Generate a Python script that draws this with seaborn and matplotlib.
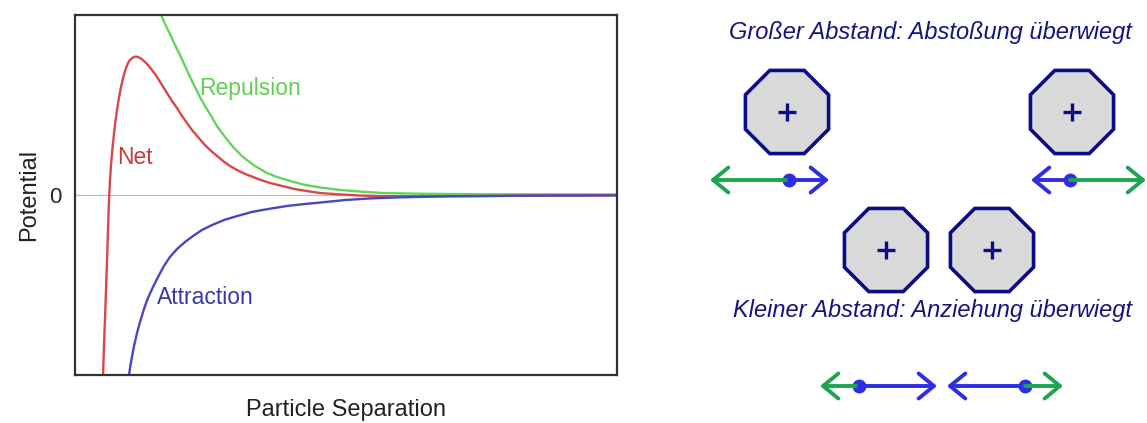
import numpy as np
import pandas as pd
import seaborn as sns
import matplotlib
matplotlib.use('Agg')
import matplotlib.pyplot as plt
from matplotlib.patches import RegularPolygon

# curves (x = separation 0..10, y = potential -1..1)
rep_x = [1.531, 1.587, 1.661, 1.753, 1.845, 1.937, 2.030, 2.122, 2.214, 2.306, 2.399, 2.491, 2.620, 2.768,
         2.915, 3.100, 3.321, 3.542, 3.727, 3.967, 4.244, 4.520, 4.889, 5.258, 5.683, 6.365, 7.472, 10.0]
rep_y = [1.039, 1.000, 0.950, 0.894, 0.833, 0.778, 0.717, 0.656, 0.600, 0.544, 0.494, 0.450, 0.383, 0.322,
         0.267, 0.211, 0.161, 0.122, 0.100, 0.078, 0.056, 0.042, 0.028, 0.019, 0.011, 0.007, 0.004, 0.003]

net_x = [0.507, 0.517, 0.535, 0.554, 0.572, 0.590, 0.609, 0.627, 0.646, 0.664, 0.683, 0.701, 0.738, 0.775,
         0.830, 0.886, 0.941, 0.996, 1.052, 1.107, 1.162, 1.218, 1.273, 1.328, 1.421, 1.513, 1.605, 1.697,
         1.790, 1.882, 1.974, 2.066, 2.159, 2.269, 2.380, 2.491, 2.620, 2.731, 2.860, 2.989, 3.137, 3.284,
         3.432, 3.598, 3.819, 4.059, 4.280, 4.520, 4.889, 5.258, 5.627, 6.365, 7.472, 8.579, 10.0]
net_y = [-1.139, -1.011, -0.833, -0.683, -0.528, -0.372, -0.194, -0.028, 0.083, 0.167, 0.233, 0.289, 0.389,
         0.472, 0.572, 0.650, 0.706, 0.744, 0.761, 0.769, 0.767, 0.758, 0.744, 0.728, 0.694, 0.656, 0.611,
         0.567, 0.522, 0.483, 0.439, 0.400, 0.361, 0.322, 0.283, 0.250, 0.217, 0.189, 0.161, 0.139, 0.117,
         0.100, 0.083, 0.067, 0.050, 0.033, 0.022, 0.011, 0.003, -0.003, -0.006, -0.007, -0.006, -0.003, -0.002]

att_x = [0.959, 0.996, 1.033, 1.089, 1.144, 1.199, 1.273, 1.347, 1.439, 1.531, 1.642, 1.753, 1.882, 2.030,
         2.177, 2.343, 2.528, 2.749, 2.989, 3.266, 3.561, 3.911, 4.244, 4.520, 4.982, 5.443, 5.996, 6.919,
         8.210, 10.0]
att_y = [-1.083, -1.000, -0.928, -0.839, -0.767, -0.706, -0.633, -0.572, -0.511, -0.456, -0.394, -0.344,
         -0.300, -0.261, -0.228, -0.194, -0.167, -0.139, -0.117, -0.094, -0.078, -0.061, -0.050, -0.042,
         -0.028, -0.019, -0.013, -0.007, -0.004, -0.002]

curve_names = ['Repulsion', 'Net', 'Attraction']
curve_colors = ['#62d65a', '#d9474a', '#4747c2']
label_colors = ['#5fcf55', '#c83c3c', '#3a3aa6']
label_pos = [(3.23, 0.594), (1.107, 0.206), (2.40, -0.567)]

# right-hand sketch (pixel coords of the original picture)
titles = ['Großer Abstand: Abstoßung überwiegt', 'Kleiner Abstand: Anziehung überwiegt']
title_pos = [(930, 33), (932, 310)]
ion_x = [787, 1072, 886, 992]
ion_y = [112, 112, 250, 250]
# arrows: (tail x, head x, y, colour)
arrows = [(789, 710, 180, 'g'), (789, 829, 180, 'b'),
          (1070, 1031, 180, 'b'), (1070, 1146, 180, 'g'),
          (859, 820, 386, 'g'), (859, 937, 386, 'b'),
          (1025, 947, 386, 'b'), (1025, 1063, 386, 'g')]
dot_x = [789, 1070, 859, 1025]
dot_y = [180, 180, 386, 386]

df = pd.concat([
    pd.DataFrame({'sep': rep_x, 'pot': rep_y, 'curve': 'Repulsion'}),
    pd.DataFrame({'sep': net_x, 'pot': net_y, 'curve': 'Net'}),
    pd.DataFrame({'sep': att_x, 'pot': att_y, 'curve': 'Attraction'}),
])

sns.set_theme(style='white')
plt.rcParams['font.family'] = ['Liberation Sans', 'DejaVu Sans']

fig = plt.figure(figsize=(11.47, 4.23), dpi=100)
ax = fig.add_axes([75 / 1147, 1 - 375 / 423, 542 / 1147, 360 / 423])

ax.axhline(0, color='#bbbbbb', lw=0.8, zorder=0)
sns.lineplot(data=df, x='sep', y='pot', hue='curve', palette=dict(zip(curve_names, curve_colors)),
             sort=False, estimator=None, legend=False, lw=1.7, ax=ax)
ax.set_xlim(0, 10)
ax.set_ylim(-1.0, 1.0)
ax.set_xticks([])
ax.set_yticks([0])
ax.set_yticklabels(['0'], fontsize=16)
ax.tick_params(axis='y', length=0, pad=10)
ax.set_xlabel('Particle Separation', fontsize=17, color='#222222', labelpad=17)
ax.set_ylabel('Potential', fontsize=17, color='#222222', labelpad=6)
for s in ax.spines.values():
    s.set_color('#333333')
    s.set_linewidth(1.6)
for name, col, (lx, ly) in zip(curve_names, label_colors, label_pos):
    ax.text(lx, ly, name, color=col, fontsize=16.5, ha='center', va='center')

# sketch panel
ax2 = fig.add_axes([690 / 1147, 0, 457 / 1147, 1])
ax2.set_xlim(690, 1147)
ax2.set_ylim(423, 0)
ax2.axis('off')

for t, (tx, ty) in zip(titles, title_pos):
    ax2.text(tx, ty, t, fontsize=17, style='italic', color='#14147e', ha='center', va='center',
             family=['Liberation Sans Narrow', 'Liberation Sans', 'DejaVu Sans'])

for cx, cy in zip(ion_x, ion_y):
    ax2.add_patch(RegularPolygon((cx, cy), numVertices=8, radius=45, orientation=np.pi / 8,
                                 facecolor='#d9d9d9', edgecolor='#0c0c86', lw=2.6))
ax2.plot(ion_x, ion_y, ls='none', marker='+', ms=13, mew=2.4, color='#0c0c86')

arrow_cols = {'g': '#1ca64e', 'b': '#2d2de3'}
for tail, head, ay, c in arrows:
    ax2.annotate('', xy=(head, ay), xytext=(tail, ay),
                 arrowprops=dict(arrowstyle='->,head_length=0.55,head_width=0.45', color=arrow_cols[c],
                                 lw=2.8, mutation_scale=20, shrinkA=0, shrinkB=0))
ax2.plot(dot_x, dot_y, ls='none', marker='o', ms=9, color='#2d2de3')

fig.savefig('out.png', dpi=100)
